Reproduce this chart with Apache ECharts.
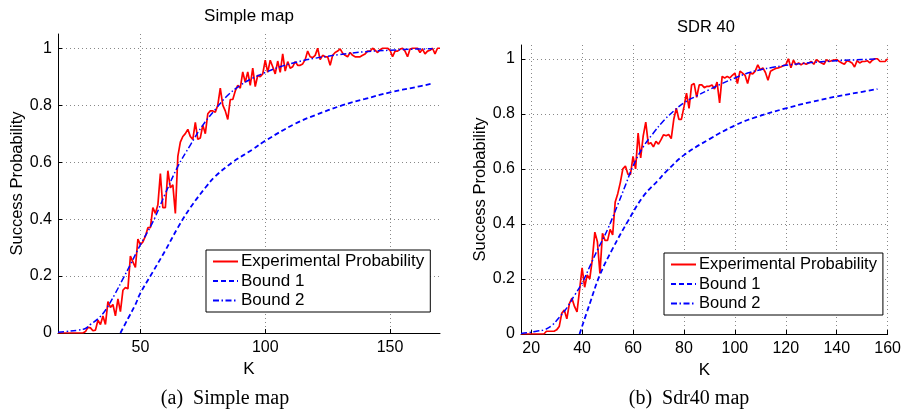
<!DOCTYPE html>
<html><head><meta charset="utf-8">
<script src="https://cdn.jsdelivr.net/npm/echarts@6/dist/echarts.min.js"></script>
<style>html,body{margin:0;padding:0;background:#fff}#c{width:904px;height:412px}</style>
</head><body><div id="c"></div>
<script>
// ---- names / text ----
const seriesNames = ['Experimental Probability', 'Bound 1', 'Bound 2'];
const chartTitles = ['Simple map', 'SDR 40'];
const captions = ['(a)  Simple map', '(b)  Sdr40 map'];
const yAxisName = 'Success Probability';
const xAxisName = 'K';

// ---- ticks ----
const yTicks = [0, 0.2, 0.4, 0.6, 0.8, 1];
const leftXTicks = [50, 100, 150];
const rightXTicks = [20, 40, 60, 80, 100, 120, 140, 160];

// ---- left panel (Simple map) ----
const leftExpStartK = 17;
const leftExp = [
  0,0,0,0,0,0,0,0,0,0,
  0,0.005,0.02,0.018,0.008,0.01,0.045,0.03,0.06,0.03,
  0.11,0.09,0.10,0.06,0.12,0.075,0.15,0.16,0.155,0.27,
  0.25,0.23,0.33,0.31,0.32,0.34,0.37,0.37,0.44,0.42,
  0.45,0.56,0.44,0.44,0.57,0.51,0.52,0.42,0.62,0.67,
  0.69,0.70,0.715,0.69,0.68,0.74,0.68,0.685,0.73,0.70,
  0.77,0.78,0.78,0.775,0.80,0.86,0.80,0.78,0.75,0.82,
  0.82,0.85,0.87,0.86,0.917,0.88,0.917,0.87,0.93,0.865,
  0.905,0.90,0.91,0.958,0.915,0.958,0.935,0.91,0.955,0.915,
  0.98,0.92,0.953,0.93,0.935,0.953,0.94,0.94,0.945,0.96,
  0.99,0.97,0.967,0.975,1.0,0.96,0.975,0.97,0.97,0.94,
  0.975,0.985,0.99,0.998,0.983,0.975,0.97,0.985,0.975,0.97,
  0.97,0.97,0.975,0.98,0.99,0.99,1.0,0.993,0.985,0.995,
  1.0,1.0,1.0,0.993,0.97,0.99,0.99,0.997,1.0,0.99,
  0.97,0.997,1.0,1.0,1.0,0.985,0.997,0.98,0.99,0.993,
  1.0,0.98,1.0,1.0
];
const leftB1K = [42,45,48,50,55,60,65,70,76,80,87,95,100,112,120,131,140,150,160,167];
const leftB1P = [0,0.05,0.10,0.14,0.215,0.29,0.37,0.44,0.51,0.55,0.60,0.645,0.675,0.735,0.765,0.80,0.822,0.845,0.863,0.876];
const leftB2K = [17,20,25,28,30,33,36,40,43,46,50,55,60,65,70,75,80,85,90,95,100,106,112,120,130,140,150,160,167];
const leftB2P = [0.003,0.005,0.01,0.016,0.03,0.05,0.08,0.14,0.19,0.24,0.31,0.39,0.49,0.585,0.66,0.73,0.785,0.835,0.87,0.895,0.915,0.935,0.95,0.965,0.978,0.988,0.993,0.997,0.998];

// ---- right panel (SDR 40) ----
const rightExpStartK = 16;
const rightExp = [
  0,0,0,0,0,0,0,0,0,0,
  0.01,0.01,0.01,0.01,0.015,0.027,0.075,0.087,0.055,0.11,
  0.13,0.10,0.08,0.16,0.24,0.17,0.215,0.20,0.27,0.37,
  0.335,0.22,0.366,0.34,0.34,0.38,0.36,0.48,0.51,0.55,
  0.60,0.61,0.58,0.58,0.645,0.60,0.73,0.64,0.72,0.77,
  0.69,0.695,0.68,0.70,0.69,0.706,0.724,0.72,0.725,0.71,
  0.78,0.82,0.78,0.78,0.825,0.875,0.82,0.905,0.91,0.86,
  0.905,0.905,0.895,0.90,0.90,0.905,0.89,0.915,0.84,0.936,
  0.93,0.936,0.93,0.94,0.948,0.91,0.955,0.948,0.94,0.91,
  0.948,0.945,0.955,0.978,0.96,0.967,0.95,0.922,0.955,0.96,
  0.965,0.967,0.97,0.975,0.978,1.0,0.967,0.995,0.978,0.985,
  0.978,0.985,0.98,0.985,0.99,0.98,0.997,0.99,0.985,0.98,
  0.997,0.99,0.993,0.995,0.997,0.99,0.985,0.98,0.993,0.99,
  0.985,0.97,0.993,0.985,0.99,0.99,0.993,0.985,0.995,1.0,
  1.0,0.99,0.99,0.99,1.0
];
const rightB1K = [39,43,47,52,58,64,70,73,80,90,100,108,120,130,140,150,156];
const rightB1P = [0,0.11,0.215,0.31,0.41,0.50,0.56,0.59,0.65,0.708,0.758,0.787,0.82,0.843,0.863,0.88,0.89];
const rightB2K = [16,19,22,25,28,31,34,37,40,43,46,50,54,57,60,64,68,72,76,80,85,90,95,100,105,110,115,120,130,140,150,156];
const rightB2P = [0.002,0.005,0.01,0.015,0.03,0.06,0.095,0.14,0.185,0.245,0.305,0.38,0.47,0.54,0.61,0.68,0.73,0.775,0.81,0.84,0.865,0.888,0.91,0.93,0.948,0.96,0.969,0.976,0.986,0.993,0.997,0.999];

// ---- build ----
const FONT = '"Liberation Sans", Arial, Helvetica, sans-serif';
const SERIF = '"Liberation Serif", "Times New Roman", serif';
const pairs = (ks, ps) => ks.map((k, i) => [k, ps[i]]);
const expPairs = (start, vals) => vals.map((v, i) => [start + i, v]);
const fmt = v => String(+Number(v).toFixed(2));

function xAxisCfg(gi, min, max, ticks) {
  return {
    type: 'value', gridIndex: gi, min, max,
    name: xAxisName, nameLocation: 'middle', nameGap: 21,
    nameTextStyle: { fontSize: 17, color: '#000', fontFamily: FONT },
    axisLine: { show: true, onZero: false, lineStyle: { color: '#000', width: 1 } },
    axisTick: { show: true, inside: true, length: 4, customValues: ticks, lineStyle: { color: '#000' } },
    axisLabel: { customValues: ticks, fontSize: 16, color: '#000', fontFamily: FONT, margin: 7, formatter: fmt },
    splitLine: { show: true, lineStyle: { color: '#888', type: [1, 3], width: 1 } }
  };
}
function yAxisCfg(gi, gap) {
  return {
    type: 'value', gridIndex: gi, min: 0, max: 1.05,
    name: yAxisName, nameLocation: 'middle', nameGap: gap,
    nameTextStyle: { fontSize: 16.5, color: '#000', fontFamily: FONT },
    axisLine: { show: true, lineStyle: { color: '#000', width: 1 } },
    axisTick: { show: true, inside: true, length: 4, customValues: yTicks, lineStyle: { color: '#000' } },
    axisLabel: { customValues: yTicks, fontSize: 16, color: '#000', fontFamily: FONT, margin: 6, formatter: fmt },
    splitLine: { show: true, lineStyle: { color: '#888', type: [1, 3], width: 1 } }
  };
}
function seriesFor(gi, exp, b1, b2) {
  return [
    { name: seriesNames[0], type: 'line', xAxisIndex: gi, yAxisIndex: gi, data: exp, symbol: 'none', showSymbol: false,
      lineStyle: { color: '#ff0000', width: 1.7 }, itemStyle: { color: '#ff0000' }, z: 2 },
    { name: seriesNames[1], type: 'line', xAxisIndex: gi, yAxisIndex: gi, data: b1, symbol: 'none', showSymbol: false,
      smooth: 0.4, lineStyle: { color: '#0000ff', width: 1.8, type: [5, 3] }, itemStyle: { color: '#0000ff' }, z: 3 },
    { name: seriesNames[2], type: 'line', xAxisIndex: gi, yAxisIndex: gi, data: b2, symbol: 'none', showSymbol: false,
      smooth: 0.4, lineStyle: { color: '#0000ff', width: 1.5, type: [6, 2.5, 1.5, 2.5] }, itemStyle: { color: '#0000ff' }, z: 3 }
  ];
}
function legendCfg(left, top, fs) {
  return {
    data: seriesNames, orient: 'vertical', left, top, padding: [3, 6, 3, 6], itemGap: 2.5,
    itemWidth: 25, itemHeight: 14, itemStyle: { opacity: 0 }, borderColor: '#000', borderWidth: 1, backgroundColor: '#fff',
    textStyle: { fontSize: fs, color: '#000', fontFamily: FONT, padding: [0, 0, 0, -2] }, selectedMode: false
  };
}

const chart = echarts.init(document.getElementById('c'), null, { renderer: 'canvas' });
chart.setOption({
  animation: false,
  backgroundColor: '#fff',
  grid: [
    { left: 58, right: 464, top: 34, bottom: 79 },
    { left: 521, right: 14, top: 45, bottom: 78 }
  ],
  xAxis: [xAxisCfg(0, 17, 170, leftXTicks), xAxisCfg(1, 16, 160, rightXTicks)],
  yAxis: [yAxisCfg(0, 31), yAxisCfg(1, 30)],
  legend: [legendCfg(206, 250, 17), legendCfg(664, 253, 16.5)],
  series: [
    ...seriesFor(0, expPairs(leftExpStartK, leftExp), pairs(leftB1K, leftB1P), pairs(leftB2K, leftB2P)),
    ...seriesFor(1, expPairs(rightExpStartK, rightExp), pairs(rightB1K, rightB1P), pairs(rightB2K, rightB2P))
  ],
  graphic: [
    { type: 'text', x: 249, y: 16, style: { text: chartTitles[0], align: 'center', verticalAlign: 'middle', fontSize: 17, fontFamily: FONT, fill: '#000' } },
    { type: 'text', x: 706, y: 27, style: { text: chartTitles[1], align: 'center', verticalAlign: 'middle', fontSize: 16.5, fontFamily: FONT, fill: '#000' } },
    { type: 'text', x: 225, y: 399, style: { text: captions[0], align: 'center', verticalAlign: 'middle', fontSize: 20, fontFamily: SERIF, fill: '#000' } },
    { type: 'text', x: 689, y: 399, style: { text: captions[1], align: 'center', verticalAlign: 'middle', fontSize: 20, fontFamily: SERIF, fill: '#000' } }
  ]
});
</script></body></html>
